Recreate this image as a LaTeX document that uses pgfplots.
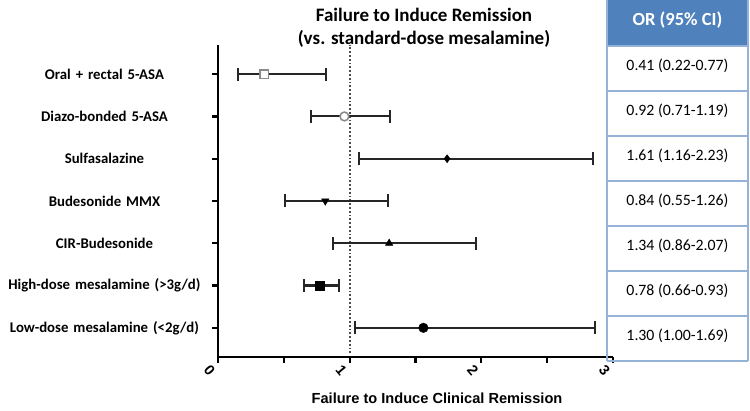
\documentclass[border=0pt]{standalone}
\usepackage{fontspec}
\setmainfont{Carlito}
\newfontfamily\arialb{Liberation Sans}
\usepackage{pgfplots}
\pgfplotsset{compat=1.18}
\definecolor{tblue}{HTML}{4F81BD}
\definecolor{tline}{HTML}{95B3D7}
\definecolor{opengray}{HTML}{8A8A8A}

\begin{document}
\begin{tikzpicture}
\useasboundingbox (0pt,0pt) rectangle (750pt,411pt);
\begin{axis}[
  at={(218pt,54pt)}, anchor=south west,
  scale only axis, width=395pt, height=312pt,
  xmin=0, xmax=3, ymin=0.31, ymax=7.69,
  clip=false,
  axis x line=bottom, axis y line=left,
  axis line style={-, line width=2.4pt},
  tick align=outside,
  major tick length=6pt, minor tick length=6pt,
  every tick/.style={black, line width=2.2pt},
  xtick={0,1,2,3}, minor xtick={0.5,1.5,2.5},
  /pgf/number format/assume math mode=true,
  xticklabel style={font=\arialb\bfseries\fontsize{14.5}{14.5}\selectfont, rotate=-50, anchor=center, yshift=-11pt},
  ytick={1,...,7},
  yticklabels={Low-dose mesalamine (<2g/d), High-dose mesalamine (>3g/d), CIR-Budesonide, Budesonide MMX, Sulfasalazine, Diazo-bonded 5-ASA, Oral + rectal 5-ASA},
  yticklabel style={font=\bfseries\fontsize{14.8}{16}\selectfont, text width=198pt, align=center, anchor=east, xshift=-5pt},
  error bars/x dir=both, error bars/x explicit,
  error bars/error mark=|,
  error bars/error bar style={line width=2.1pt, black!85},
  error bars/error mark options={line width=2pt, black!85, mark size=6.5pt},
]
% reference line at 1
\addplot[black!70, dotted, line width=1.8pt] coordinates {(1,0.4) (1,7.69)};
% rows, top to bottom
\addplot[only marks, mark=square*, mark size=4.3pt, draw=opengray, fill=white, line width=1.5pt]
  coordinates {(0.35,7) -= (0.20,0) += (0.47,0)};
\addplot[only marks, mark=*, mark size=4.4pt, draw=opengray, fill=white, line width=1.5pt]
  coordinates {(0.96,6) -= (0.25,0) += (0.35,0)};
\addplot[only marks, mark=diamond*, mark size=4pt, black]
  coordinates {(1.74,5) -= (0.67,0) += (1.11,0)};
\addplot[only marks, mark=triangle*, mark size=4.3pt, black, mark options={rotate=180}]
  coordinates {(0.815,4) -= (0.305,0) += (0.475,0)};
\addplot[only marks, mark=triangle*, mark size=4.3pt, black]
  coordinates {(1.30,3) -= (0.43,0) += (0.66,0)};
\addplot[only marks, mark=square*, mark size=4.4pt, black]
  coordinates {(0.77,2) -= (0.12,0) += (0.15,0)};
\addplot[only marks, mark=*, mark size=4.8pt, black]
  coordinates {(1.56,1) -= (0.52,0) += (1.30,0)};
\end{axis}
% title
\node[align=center, font=\bfseries\fontsize{19}{22.5}\selectfont] at (424pt,383pt)
  {Failure to Induce Remission\\(vs. standard-dose mesalamine)};
% x label
\node[font=\arialb\bfseries\fontsize{14.6}{16}\selectfont] at (437pt,13pt)
  {Failure to Induce Clinical Remission};
% table
\fill[tblue] (607pt,365pt) rectangle (748pt,411pt);
\node[text=white, font=\bfseries\fontsize{18.5}{20}\selectfont] at (677.5pt,391pt) {OR (95\% CI)};
\draw[tline, line width=1.2pt] (607pt,50pt) -- (607pt,411pt);
\draw[tline, line width=1.2pt] (748pt,50pt) -- (748pt,411pt);
\foreach \yy in {365,320,275,230,185,140,95,50}
  \draw[tline, line width=1.2pt] (607pt,\yy pt) -- (748pt,\yy pt);
\foreach \t [count=\i from 0] in {0.41 (0.22-0.77), 0.92 (0.71-1.19), 1.61 (1.16-2.23), 0.84 (0.55-1.26), 1.34 (0.86-2.07), 0.78 (0.66-0.93), 1.30 (1.00-1.69)}
  \node[font=\fontsize{15.8}{17}\selectfont] at (677.5pt,{(345-45*\i)*1pt}) {\t};
\end{tikzpicture}
\end{document}
